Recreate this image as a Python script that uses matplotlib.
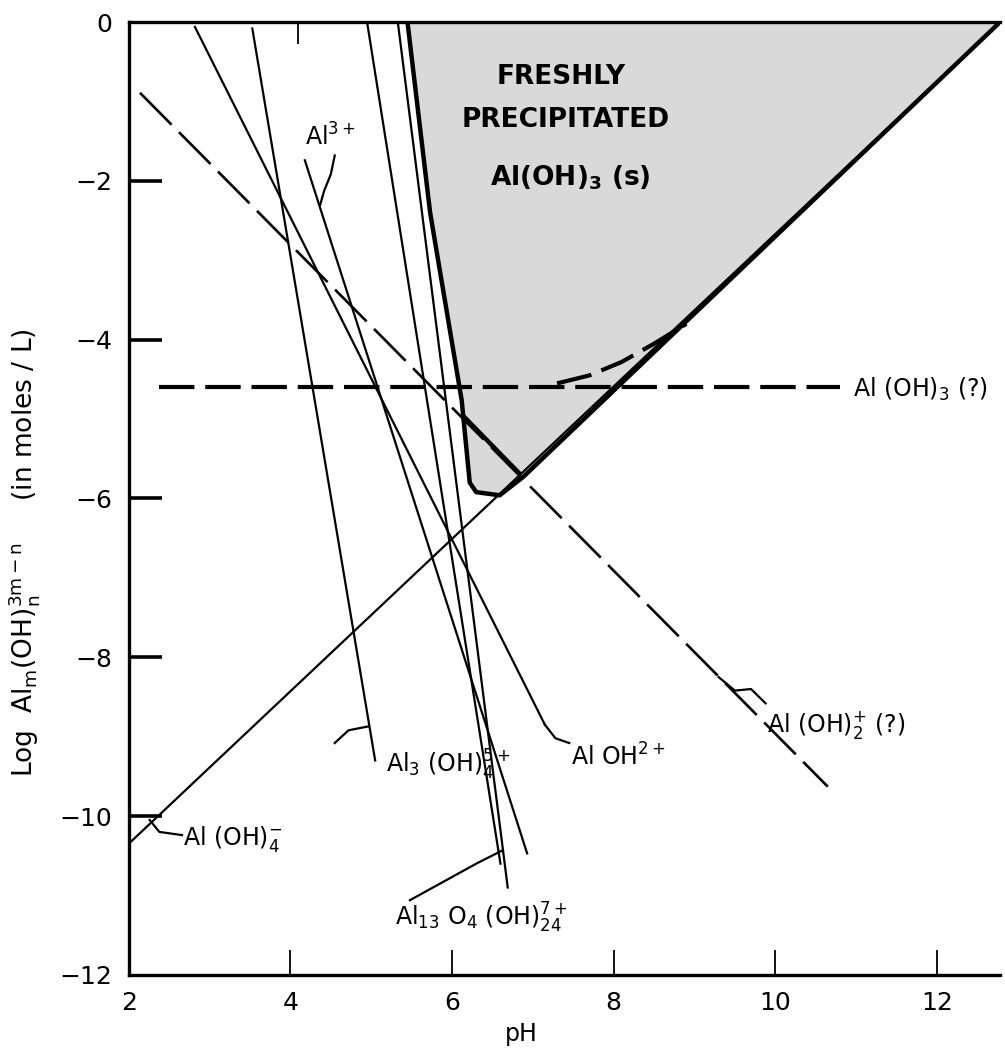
import matplotlib
matplotlib.use("Agg")
import matplotlib.pyplot as plt

# Species lines: pH end points and log concentration end points
ph_al3, log_al3 = [4.18, 6.93], [-1.74, -10.47]
ph_aloh, log_aloh = [2.82, 7.15], [-0.06, -8.85]
ph_aloh2, log_aloh2 = [2.14, 10.65], [-0.89, -9.63]
ph_aloh3, log_aloh3 = [2.38, 10.80], [-4.60, -4.60]
ph_aloh4, log_aloh4 = [2.00, 12.78], [-10.35, 0.00]
ph_al3oh4, log_al3oh4 = [3.53, 5.05], [-0.08, -9.30]
ph_al13, log_al13 = [5.33, 6.69], [0.00, -10.90]
ph_poly, log_poly = [4.95, 6.60], [0.00, -10.60]

# Solubility boundary of freshly precipitated Al(OH)3(s)
ph_bound = [5.45, 5.73, 6.12, 6.22, 6.30, 6.59, 6.88, 12.78]
log_bound = [0.00, -2.40, -4.76, -5.80, -5.92, -5.96, -5.73, 0.00]

# Heavy pieces of the total solubility curve
ph_total_a, log_total_a = [6.13, 6.85], [-4.95, -5.70]
ph_total_b = [7.30, 7.70, 8.10, 8.50, 8.90]
log_total_b = [-4.55, -4.45, -4.28, -4.05, -3.80]

x_ticks = [2, 4, 6, 8, 10, 12]
top_ticks = [4.1, 5.97, 7.61, 9.23, 10.95]
y_ticks = [0, -2, -4, -6, -8, -10, -12]
y_tick_labels = ["0", "\u22122", "\u22124", "\u22126", "\u22128", "\u221210", "\u221212"]

plt.rcParams["font.family"] = ["DejaVu Sans"]
plt.rcParams["mathtext.default"] = "regular"

fig = plt.figure(figsize=(10.05, 10.55), dpi=100)
ax = fig.add_axes([0.128, 0.076, 0.867, 0.903])
ax.set_xlim(2, 12.78)
ax.set_ylim(-12, 0)

# shaded region of the solid phase
shade_x = ph_bound + [ph_bound[0]]
shade_y = log_bound + [0.0]
ax.fill(shade_x, shade_y, facecolor="#d9d9d9", edgecolor="none", zorder=1)
ax.plot(ph_bound, log_bound, color="black", lw=3.2, solid_capstyle="round", zorder=4)

thin = dict(color="black", lw=1.6, zorder=3)
ax.plot(ph_al3, log_al3, **thin)
ax.plot(ph_aloh, log_aloh, **thin)
ax.plot(ph_aloh4, log_aloh4, **thin)
ax.plot(ph_al3oh4, log_al3oh4, **thin)
ax.plot(ph_al13, log_al13, **thin)
ax.plot(ph_poly, log_poly, **thin)
ax.plot(ph_aloh2, log_aloh2, color="black", lw=1.9, dashes=(17, 4), zorder=3)
ax.plot(ph_aloh3, log_aloh3, color="black", lw=3.0, dashes=(8.5, 2.6), zorder=3)
ax.plot(ph_total_a, log_total_a, color="black", lw=3.2, solid_capstyle="butt", zorder=4)
ax.plot(ph_total_b, log_total_b, color="black", lw=3.0, dashes=(8.5, 2.6), zorder=3)

# species labels
fs = 17
ax.text(6.55, -0.69, "FRESHLY", fontsize=19, fontweight="bold", va="center", ha="left")
ax.text(6.12, -1.23, "PRECIPITATED", fontsize=19, fontweight="bold", va="center", ha="left")
ax.text(6.47, -1.96, "Al(OH)$_3$ (s)", fontsize=19, fontweight="bold", va="center", ha="left")
ax.text(10.96, -4.62, "Al (OH)$_3$ (?)", fontsize=fs, va="center", ha="left")
ax.text(4.18, -1.45, "Al$^{3+}$", fontsize=fs, va="center", ha="left")
ax.text(2.67, -10.29, "Al (OH)$_4^{-}$", fontsize=fs, va="center", ha="left")
ax.text(5.19, -9.35, "Al$_3$ (OH)$_4^{5+}$", fontsize=fs, va="center", ha="left")
ax.text(7.47, -9.25, "Al OH$^{2+}$", fontsize=fs, va="center", ha="left")
ax.text(9.90, -8.85, "Al (OH)$_2^{+}$ (?)", fontsize=fs, va="center", ha="left")
ax.text(5.30, -11.28, "Al$_{13}$ O$_4$ (OH)$_{24}^{7+}$", fontsize=fs, va="center", ha="left")

# small leaders joining labels to their lines
leader = dict(color="black", lw=1.6, zorder=3)
ax.plot([2.26, 2.38, 2.66], [-10.05, -10.20, -10.24], **leader)
ax.plot([5.48, 6.30, 6.63], [-11.06, -10.60, -10.43], **leader)
ax.plot([4.55, 4.50, 4.42, 4.37], [-1.68, -1.92, -2.12, -2.30], **leader)
ax.plot([4.55, 4.72, 4.97], [-9.08, -8.92, -8.87], **leader)
ax.plot([7.15, 7.28, 7.45], [-8.85, -9.02, -9.08], **leader)
ax.plot([9.30, 9.50, 9.70, 9.88], [-8.25, -8.42, -8.40, -8.58], **leader)

# spines and ticks
ax.spines["right"].set_visible(False)
for s in ["left", "bottom", "top"]:
    ax.spines[s].set_linewidth(2.4)
ax.set_xticks(x_ticks)
ax.set_yticks(y_ticks)
ax.set_yticklabels(y_tick_labels)
ax.tick_params(axis="x", direction="in", length=18, width=1.3, labelsize=18, pad=12)
ax.tick_params(axis="y", direction="in", length=24, width=2.6, labelsize=18, pad=12)
yt = ax.yaxis.get_major_ticks()
yt[0].tick1line.set_visible(False)
yt[-1].tick1line.set_visible(False)
ax.xaxis.get_major_ticks()[0].tick1line.set_visible(False)

top = ax.secondary_xaxis("top")
top.set_xticks(top_ticks)
top.set_xticklabels([])
top.tick_params(direction="in", length=16, width=1.3)
top.spines["top"].set_visible(False)

ax.set_xlabel("pH", fontsize=17)
ax.xaxis.set_label_coords(0.451, -0.05)
ax.set_ylabel("Log  Al$_m$(OH)$_n^{3m-n}$     (in moles / L)", fontsize=19)
ax.yaxis.set_label_coords(-0.10, 0.443)

fig.savefig("out.png", dpi=100)
